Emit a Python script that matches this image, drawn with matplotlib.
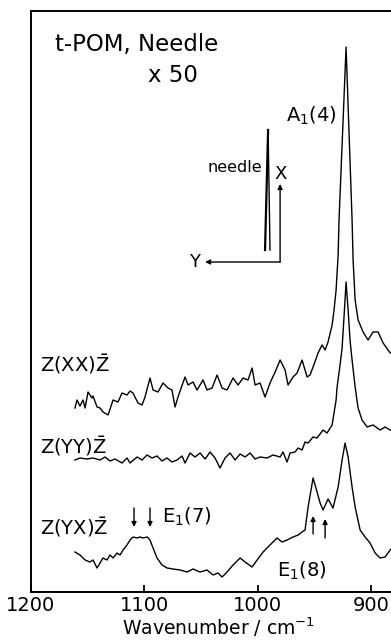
import numpy as np
import matplotlib
matplotlib.use("Agg")
from matplotlib import pyplot as plt

plt.rcParams['font.family'] = 'DejaVu Sans'
plt.rcParams['mathtext.fontset'] = 'dejavusans'

# Z(XX)Z spectrum (wavenumber, intensity)
xx_wn = [1161.2, 1159.4, 1156.8, 1154.1, 1152.3, 1149.7, 1146.2, 1145.3, 1141.7, 1139.1,
         1136.5, 1132.0, 1127.6, 1123.2, 1119.7, 1115.3, 1112.6, 1110.0, 1105.6, 1102.0,
         1099.4, 1095.0, 1092.3, 1087.9, 1083.5, 1079.1, 1075.6, 1072.9, 1070.3, 1064.1,
         1061.4, 1057.0, 1053.5, 1048.2, 1044.7, 1040.2, 1035.8, 1031.4, 1027.0, 1021.7,
         1017.3, 1012.9, 1008.5, 1004.9, 1002.3, 997.9, 993.5, 989.1, 984.6, 980.2,
         975.8, 973.2, 968.8, 965.2, 960.8, 956.4, 953.8, 951.1, 946.7, 943.2,
         940.5, 937.9, 934.3, 932.6, 930.8, 929.0, 928.2, 922.0, 916.7, 915.8,
         914.0, 911.4, 907.0, 902.6, 898.2, 893.7, 889.3, 883.1, 878.7, 874.0]
xx_int = [184, 192, 186, 192, 184, 200, 194, 196, 185, 184,
          180, 177, 192, 190, 199, 197, 201, 199, 189, 187,
          195, 214, 202, 200, 209, 204, 202, 185, 195, 215,
          207, 210, 202, 212, 202, 204, 217, 204, 202, 214,
          207, 214, 212, 224, 207, 209, 195, 209, 220, 232,
          222, 207, 215, 219, 232, 215, 217, 225, 239, 247,
          242, 250, 267, 282, 302, 337, 372, 545, 372, 332,
          292, 272, 260, 252, 260, 260, 249, 239, 242, 247]

# Z(YY)Z spectrum
yy_wn = [1161.2, 1156.8, 1150.6, 1145.3, 1139.1, 1134.7, 1130.3, 1125.9, 1119.7, 1115.3,
         1112.6, 1106.4, 1102.0, 1097.6, 1093.2, 1088.8, 1084.4, 1080.0, 1075.6, 1071.1,
         1066.7, 1064.1, 1059.7, 1055.3, 1050.8, 1046.4, 1042.0, 1037.6, 1033.2, 1028.8,
         1024.4, 1019.9, 1015.5, 1011.1, 1006.7, 1002.3, 997.9, 991.7, 986.4, 980.2,
         977.6, 974.1, 971.4, 967.0, 964.3, 960.8, 958.2, 955.5, 951.1, 947.6,
         942.3, 938.8, 934.3, 930.8, 929.9, 927.3, 925.5, 923.7, 922.0, 920.2,
         918.5, 916.7, 914.0, 911.4, 907.9, 903.4, 898.2, 892.0, 887.6, 883.1, 878.7]
yy_int = [132, 134, 133, 134, 132, 135, 131, 133, 129, 134,
          129, 135, 132, 137, 134, 136, 131, 134, 130, 132,
          136, 129, 139, 135, 139, 133, 140, 134, 124, 134,
          139, 132, 138, 135, 139, 133, 135, 134, 137, 135,
          140, 130, 139, 140, 144, 142, 150, 149, 155, 154,
          162, 159, 167, 192, 205, 227, 244, 277, 310, 282,
          252, 232, 205, 184, 172, 165, 167, 162, 165, 162, 160]

# Z(YX)Z spectrum
yx_wn = [1161.2, 1156.8, 1152.3, 1147.9, 1145.3, 1141.7, 1139.1, 1136.5, 1132.9, 1130.3,
         1127.6, 1124.1, 1121.4, 1118.8, 1115.3, 1112.6, 1110.0, 1106.4, 1103.8, 1101.1,
         1097.6, 1095.0, 1092.3, 1088.8, 1084.4, 1080.0, 1074.7, 1068.5, 1062.3, 1057.0,
         1050.8, 1044.7, 1039.4, 1035.0, 1031.4, 1027.0, 1021.7, 1015.5, 1011.1, 1004.9,
         1000.5, 995.2, 989.1, 982.9, 978.5, 974.1, 968.8, 964.3, 960.8, 958.2,
         955.5, 951.1, 947.6, 944.9, 942.3, 937.9, 933.5, 929.0, 925.5, 922.9,
         920.2, 916.7, 914.0, 909.6, 905.2, 900.8, 896.4, 892.0, 887.6, 883.1, 878.7]
yx_int = [40, 37, 32, 30, 32, 24, 29, 34, 32, 37,
          34, 39, 37, 42, 47, 52, 55, 54, 55, 54,
          55, 52, 44, 34, 27, 24, 23, 22, 20, 23,
          20, 22, 17, 19, 15, 20, 27, 34, 30, 25,
          32, 40, 47, 54, 50, 52, 55, 57, 60, 62,
          85, 114, 100, 89, 82, 93, 84, 105, 132, 149,
          135, 105, 85, 62, 55, 49, 39, 34, 35, 42, 47]

tick_pos = [1200, 1100, 1000, 900]
tick_labels = ["1200", "1100", "1000", "900"]

fig = plt.figure(figsize=(3.91, 6.42), dpi=100)
ax = fig.add_axes([31 / 391, 50 / 642, 374 / 391, 581 / 642])

for wn, inten in [(xx_wn, xx_int), (yy_wn, yy_int), (yx_wn, yx_int)]:
    ax.plot(wn, inten, color='black', lw=1.0)

ax.set_xlim(1200, 870)
ax.set_ylim(0, 581)
ax.set_xticks(tick_pos)
ax.set_xticklabels(tick_labels, fontsize=14)
ax.set_yticks([])
ax.tick_params(axis='x', direction='in', length=5, width=1.3, pad=3)
for s in ax.spines.values():
    s.set_linewidth(1.4)
ax.set_xlabel("Wavenumber / cm$^{-1}$", fontsize=13.5, labelpad=0)

# text labels
ax.text(1178.8, 547, "t-POM, Needle", fontsize=16.5, ha='left', va='center')
ax.text(1096.7, 517, "x 50", fontsize=16.5, ha='left', va='center')
ax.text(930, 476, "A$_1$(4)", fontsize=14, ha='right', va='center')
ax.text(1192, 228, r"Z(XX)$\bar{\mathrm{Z}}$", fontsize=14, ha='left', va='center')
ax.text(1192, 146, r"Z(YY)$\bar{\mathrm{Z}}$", fontsize=14, ha='left', va='center')
ax.text(1192, 65, r"Z(YX)$\bar{\mathrm{Z}}$", fontsize=14, ha='left', va='center')
ax.text(1084.4, 75, "E$_1$(7)", fontsize=14, ha='left', va='center')
ax.text(982.9, 21, "E$_1$(8)", fontsize=14, ha='left', va='center')

# needle / axes sketch
ax.plot([993.5, 990.8], [342, 462], color='black', lw=1.6)
ax.plot([989.1, 990.8], [342, 462], color='black', lw=1.0)
ax.text(996.1, 425, "needle", fontsize=11.5, ha='right', va='center')
ax.text(979.4, 418, "X", fontsize=13, ha='center', va='center')
ax.text(1055.3, 330, "Y", fontsize=13, ha='center', va='center')
ap = dict(arrowstyle='-|>', color='black', lw=1.0, mutation_scale=7, shrinkA=0, shrinkB=0)
ax.annotate("", xy=(980.2, 408), xytext=(980.2, 330), arrowprops=ap)
ax.annotate("", xy=(1046.4, 330), xytext=(980.2, 330), arrowprops=ap)

# peak markers
for w in [1109.1, 1095.0]:
    ax.annotate("", xy=(w, 65), xytext=(w, 84), arrowprops=ap)
ax.annotate("", xy=(951.1, 76), xytext=(951.1, 58), arrowprops=ap)
ax.annotate("", xy=(940.5, 73), xytext=(940.5, 54), arrowprops=ap)

fig.savefig("out.png", dpi=100)
